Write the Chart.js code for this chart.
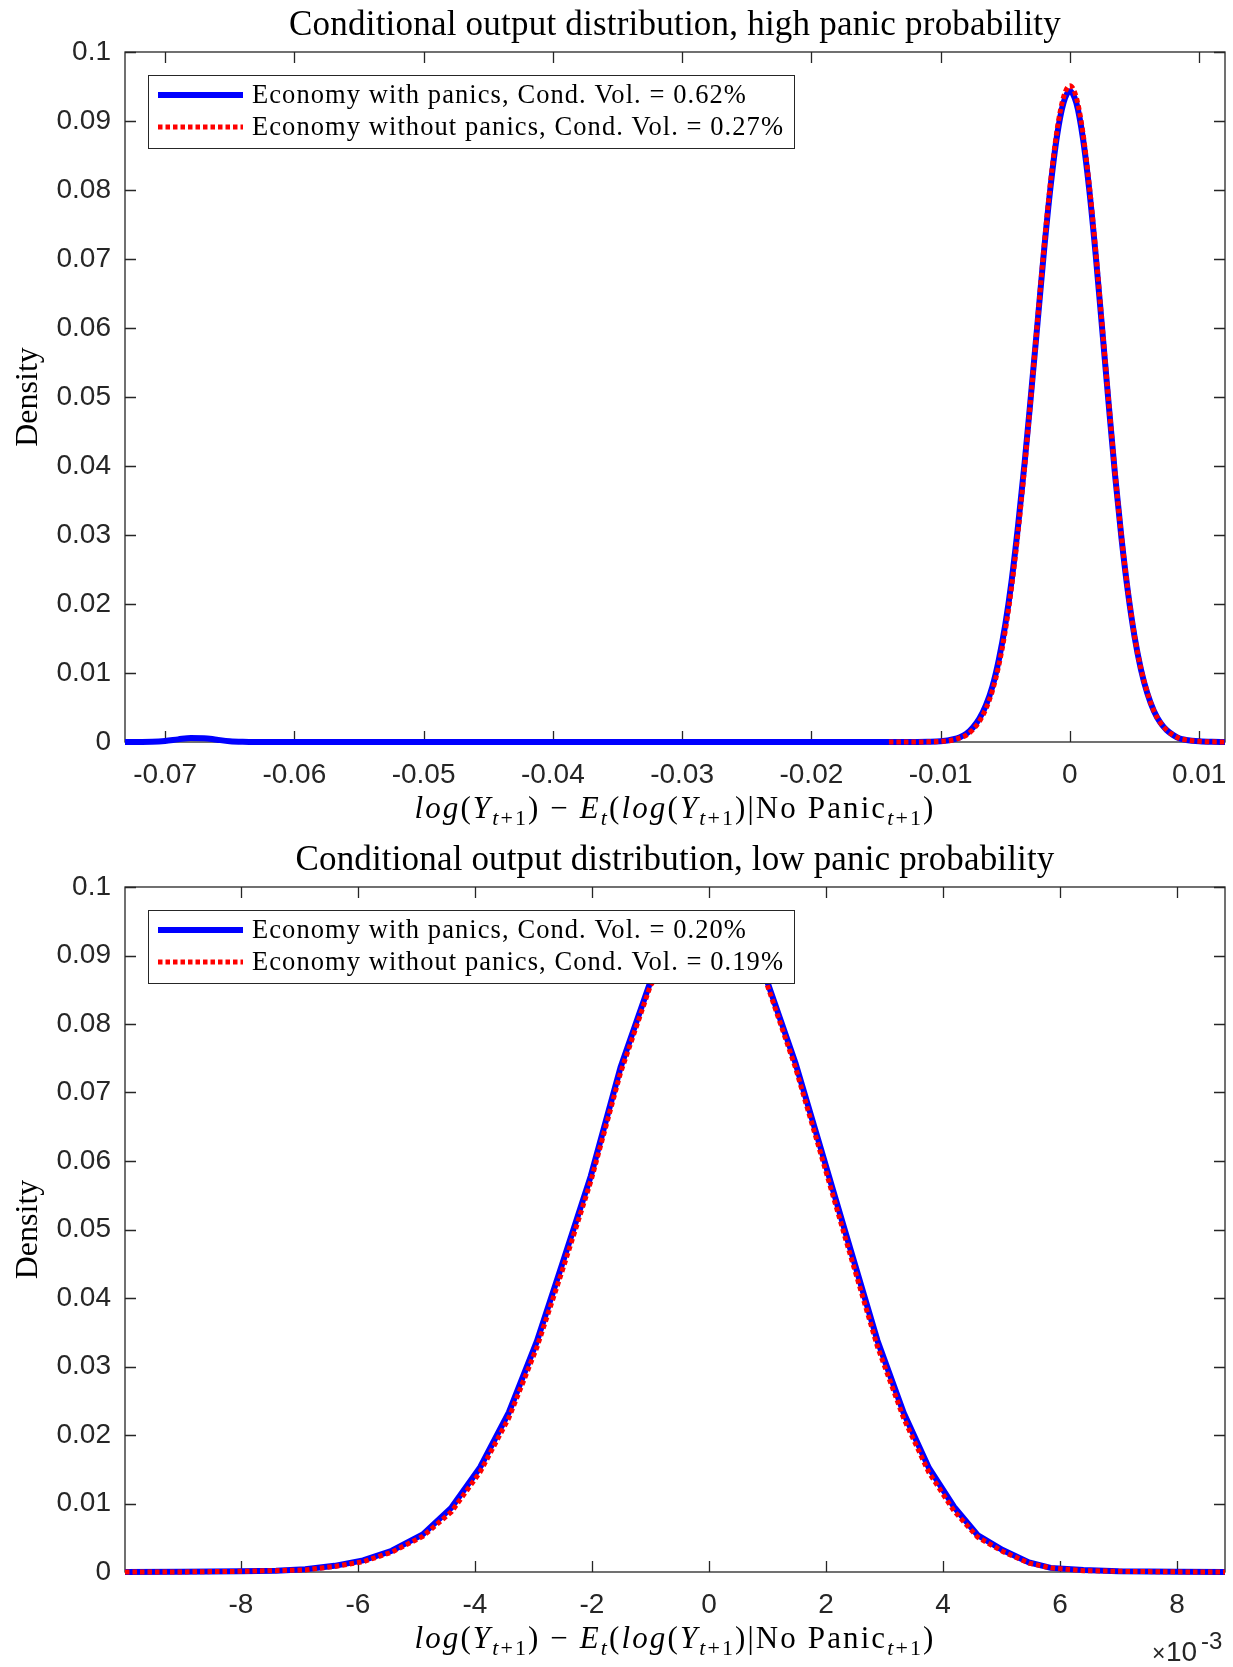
<!DOCTYPE html>
<html>
<head>
<meta charset="utf-8">
<script src="https://cdn.jsdelivr.net/npm/chart.js@4.4.1/dist/chart.umd.min.js"></script>
<style>
  html, body { margin: 0; padding: 0; background: #fff; }
  #wrap { position: relative; width: 1233px; height: 1667px; }
  canvas { position: absolute; left: 0; }
  #highChart { top: 0; }
  #lowChart { top: 834px; }
</style>
</head>
<body>
<div id="wrap">
  <canvas id="highChart" width="1233" height="834"></canvas>
  <canvas id="lowChart" width="1233" height="833"></canvas>
</div>
<script>
// ---- top panel: high panic probability (x in log points) ----
const xHigh = [-0.0731, -0.072, -0.071, -0.070, -0.069, -0.068, -0.067, -0.066, -0.065, -0.064,
  -0.063, -0.060, -0.050, -0.040, -0.030, -0.020, -0.014, -0.012, -0.011, -0.010,
  -0.009, -0.0085, -0.008, -0.0075, -0.007, -0.0065, -0.006, -0.0055, -0.005, -0.0045,
  -0.004, -0.0035, -0.003, -0.0025, -0.002, -0.0015, -0.001, -0.0005, 0, 0.0005,
  0.001, 0.0015, 0.002, 0.0025, 0.003, 0.0035, 0.004, 0.0045, 0.005, 0.0055,
  0.006, 0.0065, 0.007, 0.0075, 0.008, 0.0085, 0.009, 0.010, 0.011, 0.012];
const densHighPanic = [0, 0.00001, 0.00004, 0.00016, 0.00038, 0.00058, 0.00056, 0.00033, 0.00012, 0.00003,
  0, 0, 0, 0, 0, 0, 0, 0.00001, 0.00003, 0.0001,
  0.0004, 0.0007, 0.0012, 0.0021, 0.0034, 0.0053, 0.0080, 0.0119, 0.0170, 0.0235,
  0.0315, 0.0405, 0.0505, 0.0608, 0.0712, 0.0804, 0.0878, 0.0926, 0.0943, 0.0926,
  0.0876, 0.0800, 0.0705, 0.0598, 0.0490, 0.0386, 0.0294, 0.0216, 0.0153, 0.0105,
  0.0070, 0.0045, 0.0028, 0.0017, 0.0010, 0.0005, 0.0003, 0.0001, 0.00002, 0];
const densHighNoPanic = [null, null, null, null, null, null, null, null, null, null,
  null, null, null, null, null, null, 0, 0.00001, 0.00002, 0.0001,
  0.0003, 0.0006, 0.0010, 0.0018, 0.0030, 0.0048, 0.0074, 0.0111, 0.0161, 0.0226,
  0.0306, 0.0399, 0.0503, 0.0611, 0.0717, 0.0811, 0.0886, 0.0934, 0.0951, 0.0934,
  0.0884, 0.0807, 0.0711, 0.0603, 0.0494, 0.0389, 0.0296, 0.0218, 0.0154, 0.0106,
  0.0071, 0.0045, 0.0028, 0.0017, 0.0010, 0.0005, 0.0003, 0.0001, 0.00002, 0];
const xTicksHigh = [-0.07, -0.06, -0.05, -0.04, -0.03, -0.02, -0.01, 0, 0.01];
const xTickLabelsHigh = ['-0.07', '-0.06', '-0.05', '-0.04', '-0.03', '-0.02', '-0.01', '0', '0.01'];
const volHigh = ['0.62%', '0.27%'];

// ---- bottom panel: low panic probability (x in units of 1e-3) ----
const xLow = [-9.98, -9.0, -8.0, -7.4, -6.9, -6.4, -5.91, -5.42, -4.89, -4.40,
  -3.91, -3.42, -2.94, -2.51, -2.02, -1.51, -1.0, -0.5, 0, 0.45,
  0.94, 1.48, 1.91, 2.35, 2.88, 3.33, 3.76, 4.19, 4.59, 5.02,
  5.47, 5.84, 6.4, 7.0, 8.0, 8.82];
const densLowPanic = [0, 0.00002, 0.0001, 0.0002, 0.0004, 0.0009, 0.0017, 0.0031, 0.0055, 0.0094,
  0.0153, 0.0233, 0.0337, 0.0449, 0.0578, 0.0737, 0.0862, 0.0922, 0.0940, 0.0924,
  0.0876, 0.0743, 0.0619, 0.0491, 0.0338, 0.0232, 0.0152, 0.0095, 0.0054, 0.0032,
  0.0014, 0.0006, 0.0003, 0.0001, 0.00002, 0];
const densLowNoPanic = [0, 0.00001, 0.0001, 0.0002, 0.0003, 0.0008, 0.0015, 0.0029, 0.0052, 0.0088,
  0.0146, 0.0225, 0.0328, 0.0439, 0.0570, 0.0729, 0.0856, 0.0920, 0.0945, 0.0923,
  0.0871, 0.0736, 0.0611, 0.0482, 0.0329, 0.0224, 0.0145, 0.0089, 0.0051, 0.0030,
  0.0013, 0.0006, 0.0002, 0.0001, 0.00002, 0];
const xTicksLow = [-8, -6, -4, -2, 0, 2, 4, 6, 8];
const xTickLabelsLow = ['-8', '-6', '-4', '-2', '0', '2', '4', '6', '8'];
const volLow = ['0.20%', '0.19%'];

// ---- shared y axis ----
const yTicks = [0, 0.01, 0.02, 0.03, 0.04, 0.05, 0.06, 0.07, 0.08, 0.09, 0.1];
const yTickLabels = ['0', '0.01', '0.02', '0.03', '0.04', '0.05', '0.06', '0.07', '0.08', '0.09', '0.1'];

const AXIS_COLOR = '#262626';
const SERIF = '"Liberation Serif", "Times New Roman", serif';
const SANS = '"Liberation Sans", Arial, Helvetica, sans-serif';
const TICK_LEN = 11;

// parts: [text, style]  style: 'r' roman, 'i' italic, 'sr'/'si' subscript
function drawRich(ctx, parts, cx, baseline, size, target) {
  const fontFor = p => {
    const sub = p[1][0] === 's';
    const it = p[1].endsWith('i');
    return (it ? 'italic ' : '') + (sub ? Math.round(size * 0.7) : size) + 'px ' + SERIF;
  };
  ctx.save();
  ctx.letterSpacing = '0px';
  let total = 0, n = 0;
  const widths = parts.map(p => {
    ctx.font = fontFor(p);
    const w = ctx.measureText(p[0]).width;
    total += w; n += p[0].length;
    return w;
  });
  const ls = target ? Math.max(0, (target - total) / n) : 0;
  let x = cx - (total + ls * n) / 2;
  ctx.letterSpacing = ls + 'px';
  ctx.textAlign = 'left';
  ctx.textBaseline = 'alphabetic';
  ctx.fillStyle = '#000';
  parts.forEach((p, i) => {
    ctx.font = fontFor(p);
    const dy = p[1][0] === 's' ? size * 0.22 : 0;
    ctx.fillText(p[0], x, baseline + dy);
    x += widths[i] + ls * p[0].length;
  });
  ctx.restore();
}

const xLabelParts = [
  ['log', 'i'], ['(', 'r'], ['Y', 'i'], ['t', 'si'], ['+1', 'sr'], [')', 'r'],
  [' \u2212 ', 'r'], ['E', 'i'], ['t', 'si'], ['(', 'r'], ['log', 'i'], ['(', 'r'],
  ['Y', 'i'], ['t', 'si'], ['+1', 'sr'], [')', 'r'], ['|No Panic', 'r'],
  ['t', 'si'], ['+1', 'sr'], [')', 'r']
];

const matlabFrame = {
  id: 'matlabFrame',
  beforeDatasetsDraw(chart) {
    const {ctx, chartArea: a, scales: {x, y}} = chart;
    ctx.save();
    ctx.strokeStyle = AXIS_COLOR;
    ctx.lineWidth = 1.3;
    ctx.beginPath();
    x.ticks.forEach(t => {
      const px = Math.round(x.getPixelForValue(t.value)) + 0.5;
      ctx.moveTo(px, a.bottom); ctx.lineTo(px, a.bottom - TICK_LEN);
      ctx.moveTo(px, a.top); ctx.lineTo(px, a.top + TICK_LEN);
    });
    y.ticks.forEach(t => {
      const py = Math.round(y.getPixelForValue(t.value)) + 0.5;
      ctx.moveTo(a.left, py); ctx.lineTo(a.left + TICK_LEN, py);
      ctx.moveTo(a.right, py); ctx.lineTo(a.right - TICK_LEN, py);
    });
    ctx.stroke();
    ctx.strokeRect(a.left, a.top, a.width, a.height);
    ctx.restore();
  },
  afterDatasetsDraw(chart, args, opts) {
    const {ctx, chartArea: a} = chart;
    const cx = (a.left + a.right) / 2;
    drawRich(ctx, [[opts.title, 'r']], cx, a.top - 17, 35, opts.titleWidth);
    drawRich(ctx, xLabelParts, cx, a.bottom + 76, 31, 521);

    // legend box, upper left inside the axes
    const lx = a.left + 23, ly = a.top + 23;
    ctx.save();
    ctx.fillStyle = '#fff';
    ctx.fillRect(lx, ly, 646, 73);
    ctx.strokeStyle = AXIS_COLOR;
    ctx.lineWidth = 1;
    ctx.strokeRect(lx + 0.5, ly + 0.5, 646, 73);
    const size = 26.5;
    ctx.font = size + 'px ' + SERIF;
    ctx.letterSpacing = '0px';
    const first = chart.data.datasets[opts.legendOrder[0]].label;
    const ls = Math.max(0, (495 - ctx.measureText(first).width) / first.length);
    opts.legendOrder.forEach((di, row) => {
      const ds = chart.data.datasets[di];
      const yc = ly + 20 + row * 32;
      ctx.beginPath();
      ctx.strokeStyle = ds.borderColor;
      ctx.lineWidth = ds.borderWidth;
      ctx.lineCap = 'butt';
      ctx.setLineDash(ds.borderDash || []);
      ctx.moveTo(lx + 10, yc);
      ctx.lineTo(lx + 95, yc);
      ctx.stroke();
      ctx.setLineDash([]);
      ctx.letterSpacing = ls + 'px';
      ctx.fillStyle = '#000';
      ctx.textAlign = 'left';
      ctx.textBaseline = 'alphabetic';
      ctx.fillText(ds.label, lx + 104, yc + 8);
    });
    ctx.restore();

    if (opts.exponent) {
      ctx.save();
      ctx.fillStyle = AXIS_COLOR;
      ctx.textBaseline = 'alphabetic';
      ctx.textAlign = 'left';
      const base = a.bottom + 89;
      ctx.font = '23px ' + SANS;
      ctx.fillText('\u00d7', a.right - 73, base);
      ctx.font = '28px ' + SANS;
      ctx.fillText('10', a.right - 59, base);
      ctx.font = '24px ' + SANS;
      ctx.fillText('-3', a.right - 24, base - 12);
      ctx.restore();
    }
  }
};

function points(xs, ys) {
  return xs.map((x, i) => ({x: x, y: ys[i]}));
}

function makeChart(id, cfg) {
  const datasets = [
    {
      label: 'Economy with panics, Cond. Vol. = ' + cfg.vols[0],
      data: points(cfg.xs, cfg.panic),
      borderColor: '#0000ff',
      borderWidth: 6,
      pointRadius: 0,
      fill: false,
      clip: false,
      order: 1,
      cubicInterpolationMode: cfg.smooth ? 'monotone' : 'default',
      tension: 0
    },
    {
      label: 'Economy without panics, Cond. Vol. = ' + cfg.vols[1],
      data: points(cfg.xs, cfg.noPanic),
      borderColor: '#ff0000',
      borderWidth: 5,
      borderDash: [4.5, 3],
      borderCapStyle: 'butt',
      pointRadius: 0,
      fill: false,
      clip: false,
      order: 0,
      spanGaps: false,
      cubicInterpolationMode: cfg.smooth ? 'monotone' : 'default',
      tension: 0
    }
  ];
  return new Chart(document.getElementById(id), {
    type: 'line',
    data: {datasets: datasets},
    plugins: [matlabFrame],
    options: {
      responsive: false,
      animation: false,
      devicePixelRatio: 1,
      events: [],
      layout: {padding: {top: cfg.top, right: 8, left: 0, bottom: 0}},
      plugins: {
        legend: {display: false},
        tooltip: {enabled: false},
        matlabFrame: {
          title: cfg.title,
          titleWidth: cfg.titleWidth,
          exponent: cfg.exponent,
          legendOrder: [0, 1]
        }
      },
      scales: {
        x: {
          type: 'linear',
          min: cfg.xMin,
          max: cfg.xMax,
          grid: {display: false},
          border: {display: false},
          afterFit: s => { s.height = cfg.xAxisHeight; s.paddingLeft = 0; s.paddingRight = 0; },
          afterBuildTicks: s => { s.ticks = cfg.xTicks.map(v => ({value: v})); },
          ticks: {
            autoSkip: false,
            maxRotation: 0,
            padding: 8,
            color: AXIS_COLOR,
            font: {family: SANS, size: 28},
            callback: (v, i) => cfg.xTickLabels[i]
          }
        },
        y: {
          min: 0,
          max: 0.1,
          grid: {display: false},
          border: {display: false},
          afterFit: s => { s.width = 125; s.paddingTop = 0; s.paddingBottom = 0; },
          afterBuildTicks: s => { s.ticks = yTicks.map(v => ({value: v})); },
          ticks: {
            autoSkip: false,
            padding: 6,
            color: AXIS_COLOR,
            font: {family: SANS, size: 28},
            callback: (v, i) => yTickLabels[i]
          },
          title: {
            display: true,
            text: 'Density',
            color: '#000',
            padding: {top: 9, bottom: 0},
            font: {family: SERIF, size: 32}
          }
        }
      }
    }
  });
}

makeChart('highChart', {
  xs: xHigh, panic: densHighPanic, noPanic: densHighNoPanic, vols: volHigh,
  xTicks: xTicksHigh, xTickLabels: xTickLabelsHigh, xMin: -0.0731, xMax: 0.012,
  title: 'Conditional output distribution, high panic probability', titleWidth: 772,
  top: 52, xAxisHeight: 92, smooth: true, exponent: false
});

makeChart('lowChart', {
  xs: xLow, panic: densLowPanic, noPanic: densLowNoPanic, vols: volLow,
  xTicks: xTicksLow, xTickLabels: xTickLabelsLow, xMin: -9.98, xMax: 8.82,
  title: 'Conditional output distribution, low panic probability', titleWidth: 759,
  top: 53, xAxisHeight: 95, smooth: false, exponent: true
});
</script>
</body>
</html>
